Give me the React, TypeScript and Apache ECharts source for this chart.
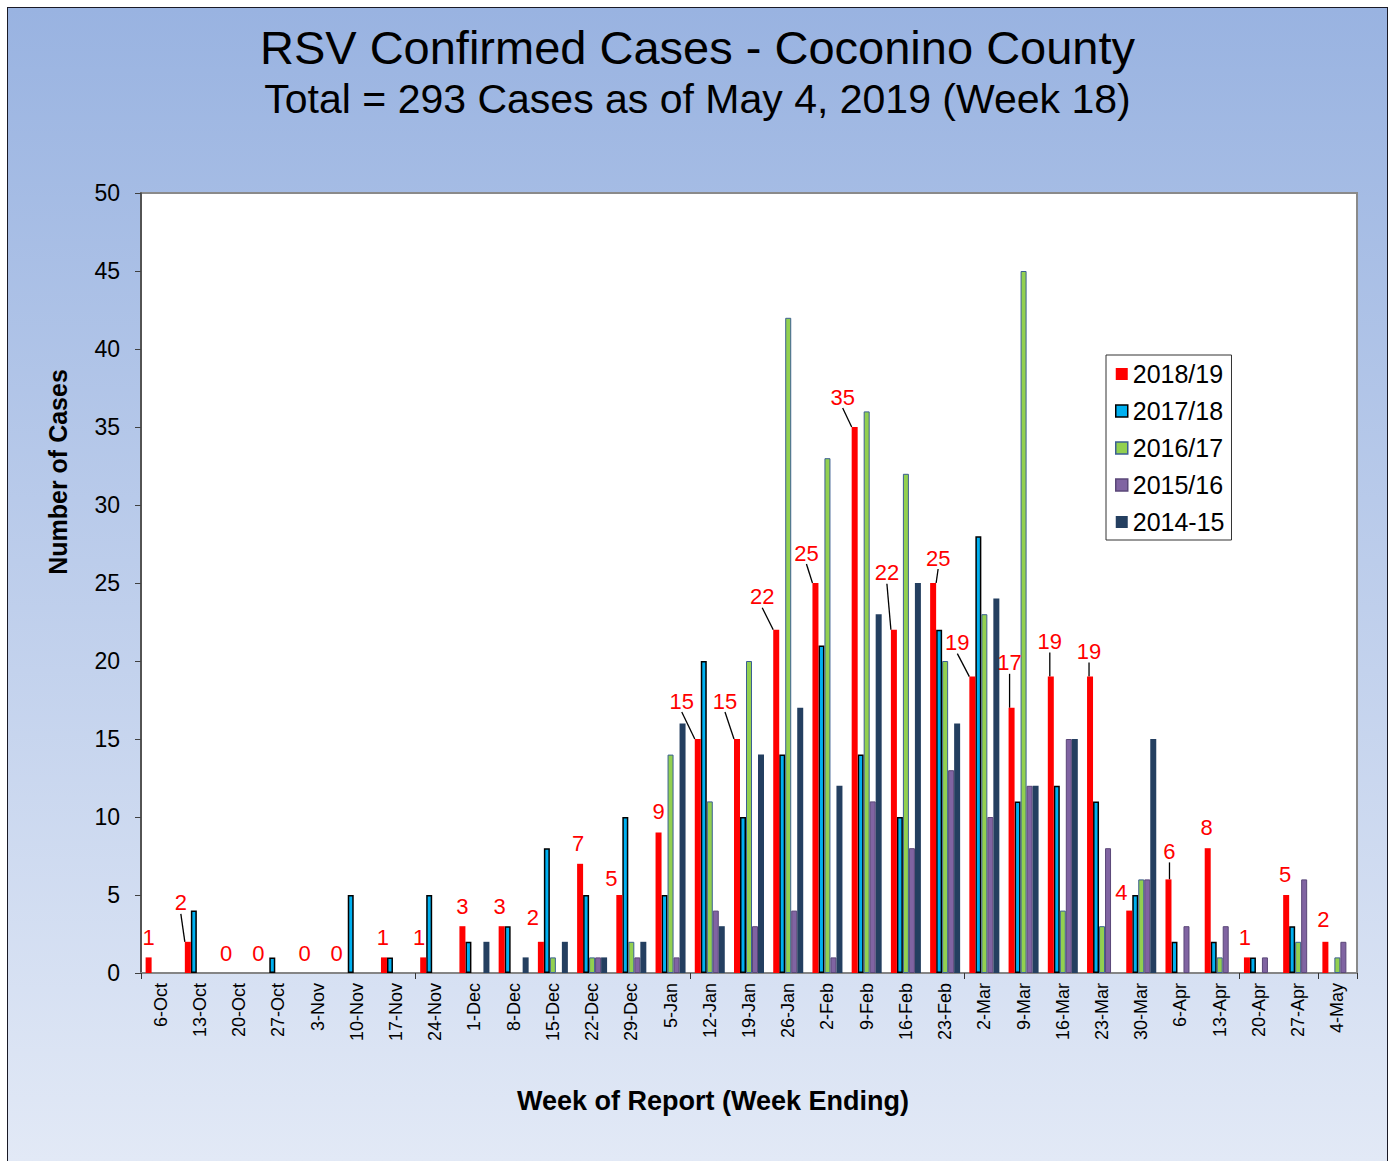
import React, { useEffect, useRef } from "react";
import * as echarts from "echarts";

const CATEGORIES = [
  "6-Oct", "13-Oct", "20-Oct", "27-Oct", "3-Nov", "10-Nov", "17-Nov", "24-Nov",
  "1-Dec", "8-Dec", "15-Dec", "22-Dec", "29-Dec", "5-Jan", "12-Jan", "19-Jan",
  "26-Jan", "2-Feb", "9-Feb", "16-Feb", "23-Feb", "2-Mar", "9-Mar", "16-Mar",
  "23-Mar", "30-Mar", "6-Apr", "13-Apr", "20-Apr", "27-Apr", "4-May",
];

const S2018_19 = [1, 2, 0, 0, 0, 0, 1, 1, 3, 3, 2, 7, 5, 9, 15, 15, 22, 25, 35, 22, 25, 19, 17, 19, 19, 4, 6, 8, 1, 5, 2];
const S2017_18 = [0, 4, 0, 1, 0, 5, 1, 5, 2, 3, 8, 5, 10, 5, 20, 10, 14, 21, 14, 10, 22, 28, 11, 12, 11, 5, 2, 2, 1, 3, 0];
const S2016_17 = [0, 0, 0, 0, 0, 0, 0, 0, 0, 0, 1, 1, 2, 14, 11, 20, 42, 33, 36, 32, 20, 23, 45, 4, 3, 6, 0, 1, 0, 2, 1];
const S2015_16 = [0, 0, 0, 0, 0, 0, 0, 0, 0, 0, 0, 1, 1, 1, 4, 3, 4, 1, 11, 8, 13, 10, 12, 15, 8, 6, 3, 3, 1, 6, 2];
const S2014_15 = [0, 0, 0, 0, 0, 0, 0, 0, 2, 1, 2, 1, 2, 16, 3, 14, 17, 12, 23, 25, 16, 24, 12, 15, 0, 15, 0, 0, 0, 0, 0];

const SERIES_NAMES = ["2018/19", "2017/18", "2016/17", "2015/16", "2014-15"];
const Y_TICKS = { min: 0, max: 50, step: 5 };

// label layout (offsets in px) for the 2018/19 value labels, and whether a leader line is drawn
const LABEL_OFFSETS: [number, number][] = [
  [0, 0], [-7, -19], [-1, 0], [-8, 0], [-1, 0], [-8, 0], [-1, 0], [-4, 0],
  [0, 0], [-2, 0], [-8, -4], [-2, 0], [-8, 3], [0, -1], [-16, -18], [-12, -18],
  [-14, -13], [-9, -10], [-12, -10], [-7, -37], [5, -5], [-15, -14], [-2, -25], [-1, -15],
  [-1, -5], [-8, 2], [1, -8], [-1, -1], [-2, 0], [-1, -1], [-2, -2],
];
const LEADER = [1, 14, 15, 16, 17, 18, 19, 20, 21, 22, 23, 24, 26];

const FONT = "'Liberation Sans', Arial, sans-serif";

export default function App() {
  const ref = useRef<HTMLDivElement>(null);

  useEffect(() => {
    if (!ref.current) return;
    const chart = echarts.init(ref.current, undefined, { renderer: "svg" });

    const nz = (arr: number[]) => arr.map((v) => (v === 0 ? null : v));

    const redData = S2018_19.map((v, i) => ({
      value: v,
      labelLine: { show: LEADER.indexOf(i) >= 0 },
    }));

    const option: any = {
      animation: false,
      backgroundColor: new echarts.graphic.LinearGradient(0, 0, 0, 1, [
        { offset: 0, color: "#99b3e1" },
        { offset: 1, color: "#e2e9f6" },
      ]),
      textStyle: { fontFamily: FONT },
      title: [
        {
          text: "RSV Confirmed Cases - Coconino County",
          left: "center",
          top: 11,
          textStyle: { fontSize: 47, fontWeight: "normal", color: "#000", fontFamily: FONT },
        },
        {
          text: "Total = 293 Cases as of May 4, 2019 (Week 18)",
          left: "center",
          top: 65,
          textStyle: { fontSize: 41, fontWeight: "normal", color: "#000", fontFamily: FONT },
        },
      ],
      legend: {
        orient: "vertical",
        left: 1098,
        top: 347,
        data: SERIES_NAMES,
        icon: "rect",
        itemWidth: 12,
        itemHeight: 12,
        itemGap: 9,
        itemStyle: { borderWidth: 1.5 },
        padding: [5, 7, 4, 9],
        backgroundColor: "#ffffff",
        borderColor: "#333",
        borderWidth: 1,
        textStyle: { fontSize: 25, lineHeight: 28, color: "#000", fontFamily: FONT },
      },
      grid: {
        left: 133,
        top: 185,
        width: 1216,
        height: 780,
        show: true,
        backgroundColor: "#ffffff",
        borderColor: "#8a8a8a",
        borderWidth: 2,
      },
      xAxis: {
        type: "category",
        data: CATEGORIES,
        axisLine: { lineStyle: { color: "#858585", width: 2 } },
        axisTick: { show: true, interval: 6, length: 6, lineStyle: { color: "#333" } },
        axisLabel: {
          interval: 0,
          rotate: 90,
          fontSize: 18,
          color: "#000",
          margin: 10,
          fontFamily: FONT,
        },
        splitLine: { show: false },
      },
      yAxis: {
        type: "value",
        min: Y_TICKS.min,
        max: Y_TICKS.max,
        interval: Y_TICKS.step,
        axisLine: { show: true, lineStyle: { color: "#404040", width: 1.5 } },
        axisTick: { show: true, length: 6, lineStyle: { color: "#404040" } },
        axisLabel: { fontSize: 23, color: "#000", margin: 21, fontFamily: FONT },
        splitLine: { show: false },
      },
      graphic: [
        {
          type: "text",
          x: 50,
          y: 464,
          rotation: Math.PI / 2,
          style: {
            text: "Number of Cases",
            fontSize: 25,
            fontWeight: "bold",
            fontFamily: FONT,
            fill: "#000",
            align: "center",
            verticalAlign: "middle",
          },
        },
        {
          type: "text",
          x: 705,
          y: 1093,
          style: {
            text: "Week of Report (Week Ending)",
            fontSize: 27,
            fontWeight: "bold",
            fontFamily: FONT,
            fill: "#000",
            align: "center",
            verticalAlign: "middle",
          },
        },
      ],
      series: [
        {
          name: SERIES_NAMES[0],
          type: "bar",
          barWidth: 6,
          barGap: "0%",
          data: redData,
          itemStyle: { color: "#ff0000", borderWidth: 0 },
          label: {
            show: true,
            position: "top",
            distance: 9,
            fontSize: 22,
            color: "#ff0000",
            fontFamily: FONT,
          },
          labelLayout: (p: any) => {
            const o = LABEL_OFFSETS[p.dataIndex] || [0, 0];
            return { dx: o[0], dy: o[1] };
          },
          labelLine: { show: false, lineStyle: { color: "#000", width: 1.3 } },
          z: 3,
        },
        {
          name: SERIES_NAMES[1],
          type: "bar",
          barWidth: 6,
          barGap: "0%",
          data: nz(S2017_18),
          itemStyle: { color: "#00b0f0", borderColor: "#000", borderWidth: 1.5 },
        },
        {
          name: SERIES_NAMES[2],
          type: "bar",
          barWidth: 6,
          barGap: "0%",
          data: nz(S2016_17),
          itemStyle: { color: "#92d050", borderColor: "#3b5f92", borderWidth: 1 },
        },
        {
          name: SERIES_NAMES[3],
          type: "bar",
          barWidth: 6,
          barGap: "0%",
          data: nz(S2015_16),
          itemStyle: { color: "#8064a2", borderColor: "#5a4778", borderWidth: 1 },
        },
        {
          name: SERIES_NAMES[4],
          type: "bar",
          barWidth: 6,
          barGap: "0%",
          data: nz(S2014_15),
          itemStyle: { color: "#243f60", borderWidth: 0 },
        },
      ],
    };

    chart.setOption(option);
    return () => chart.dispose();
  }, []);

  return (
    <div
      style={{
        position: "absolute",
        left: 7,
        top: 7,
        width: 1381,
        height: 1154,
        boxSizing: "border-box",
        borderTop: "1px solid #1a1a26",
        borderLeft: "1px solid #1a1a26",
        borderRight: "1px solid #1a1a26",
      }}
    >
      <div ref={ref} style={{ width: "100%", height: "100%" }} />
    </div>
  );
}
